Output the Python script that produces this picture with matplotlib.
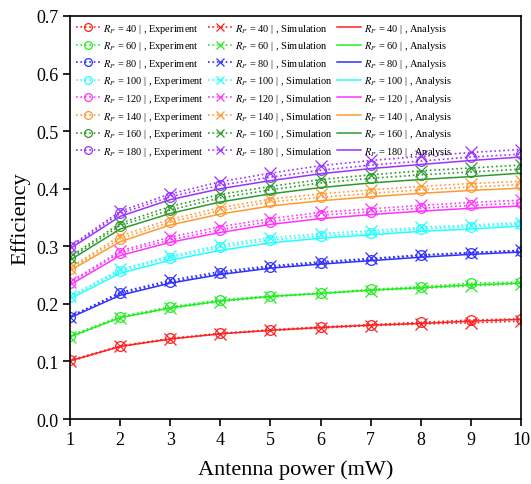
import matplotlib
matplotlib.use("Agg")
import matplotlib.pyplot as plt

plt.rcParams['font.family'] = ['Liberation Serif', 'DejaVu Serif']
plt.rcParams['mathtext.fontset'] = 'stix'

power = [1, 2, 3, 4, 5, 6, 7, 8, 9, 10]
rp_values = [40, 60, 80, 100, 120, 140, 160, 180]
colors = ['#ff2020', '#22ee22', '#3030ff', '#22ffff', '#ff33ff', '#ff9933', '#2e9a2e', '#9933ff']

analysis = [
    [0.101, 0.126, 0.139, 0.148, 0.154, 0.159, 0.163, 0.166, 0.170, 0.173],
    [0.143, 0.176, 0.193, 0.205, 0.213, 0.218, 0.224, 0.228, 0.233, 0.236],
    [0.176, 0.215, 0.236, 0.251, 0.262, 0.269, 0.275, 0.281, 0.286, 0.290],
    [0.209, 0.253, 0.276, 0.293, 0.306, 0.314, 0.320, 0.326, 0.330, 0.335],
    [0.233, 0.284, 0.307, 0.324, 0.338, 0.348, 0.355, 0.361, 0.366, 0.370],
    [0.258, 0.308, 0.337, 0.356, 0.370, 0.379, 0.386, 0.392, 0.397, 0.401],
    [0.276, 0.330, 0.357, 0.377, 0.391, 0.402, 0.410, 0.416, 0.421, 0.427],
    [0.296, 0.352, 0.381, 0.400, 0.414, 0.426, 0.435, 0.442, 0.449, 0.455],
]
experiment = [
    [0.102, 0.127, 0.140, 0.149, 0.155, 0.160, 0.164, 0.168, 0.172, 0.174],
    [0.145, 0.178, 0.195, 0.207, 0.214, 0.219, 0.225, 0.230, 0.236, 0.238],
    [0.178, 0.218, 0.238, 0.253, 0.264, 0.271, 0.277, 0.284, 0.289, 0.292],
    [0.212, 0.257, 0.280, 0.298, 0.311, 0.318, 0.323, 0.330, 0.334, 0.338],
    [0.236, 0.289, 0.311, 0.329, 0.343, 0.354, 0.360, 0.366, 0.371, 0.375],
    [0.261, 0.313, 0.342, 0.362, 0.377, 0.385, 0.392, 0.398, 0.403, 0.407],
    [0.279, 0.336, 0.363, 0.384, 0.398, 0.410, 0.418, 0.424, 0.429, 0.434],
    [0.298, 0.357, 0.386, 0.406, 0.420, 0.432, 0.441, 0.448, 0.455, 0.460],
]
simulation = [
    [0.100, 0.126, 0.139, 0.148, 0.154, 0.158, 0.162, 0.165, 0.167, 0.170],
    [0.142, 0.176, 0.192, 0.204, 0.212, 0.218, 0.223, 0.227, 0.231, 0.235],
    [0.178, 0.220, 0.241, 0.256, 0.266, 0.273, 0.279, 0.285, 0.289, 0.293],
    [0.213, 0.260, 0.283, 0.302, 0.315, 0.322, 0.327, 0.333, 0.337, 0.341],
    [0.238, 0.292, 0.316, 0.334, 0.348, 0.359, 0.365, 0.371, 0.376, 0.380],
    [0.263, 0.318, 0.347, 0.367, 0.382, 0.391, 0.398, 0.404, 0.409, 0.413],
    [0.282, 0.340, 0.369, 0.390, 0.404, 0.416, 0.424, 0.431, 0.436, 0.441],
    [0.300, 0.361, 0.391, 0.412, 0.427, 0.440, 0.449, 0.456, 0.463, 0.468],
]

fig = plt.figure(figsize=(5.31, 4.85), dpi=100)
ax = fig.add_axes([0.132, 0.134, 0.849, 0.831])

h_exp, h_sim, h_ana = [], [], []
for i, rp in enumerate(rp_values):
    c = colors[i]
    l1, = ax.plot(power, experiment[i], ':', color=c, lw=1.2, marker='o', ms=7,
                  mfc='none', mew=0.9, label=f'$R_P$ = {rp} | , Experiment')
    l2, = ax.plot(power, simulation[i], ':', color=c, lw=1.2, marker='x', ms=8,
                  mew=0.9, label=f'$R_P$ = {rp} | , Simulation')
    l3, = ax.plot(power, analysis[i], '-', color=c, lw=1.1,
                  label=f'$R_P$ = {rp} | , Analysis')
    h_exp.append(l1)
    h_sim.append(l2)
    h_ana.append(l3)

ax.set_xlim(1, 10)
ax.set_ylim(0, 0.7)
ax.set_xticks(power)
ax.set_yticks([0.0, 0.1, 0.2, 0.3, 0.4, 0.5, 0.6, 0.7])
ax.set_yticklabels(['0.0', '0.1', '0.2', '0.3', '0.4', '0.5', '0.6', '0.7'])
ax.tick_params(direction='out', length=5, width=1.2, labelsize=13)
for s in ax.spines.values():
    s.set_linewidth(1.2)
ax.set_xlabel('Antenna power (mW)', fontsize=16, labelpad=8)
ax.set_ylabel('Efficiency', fontsize=16, labelpad=4)

leg = ax.legend(h_exp + h_sim + h_ana, [h.get_label() for h in h_exp + h_sim + h_ana],
                ncol=3, loc='upper left', bbox_to_anchor=(0.0, 1.0), frameon=False,
                fontsize=7.5, handlelength=2.3, handletextpad=0.3, columnspacing=0.4,
                labelspacing=0.44, borderaxespad=0.15, markerscale=0.8)

fig.savefig('out.png', dpi=100)
